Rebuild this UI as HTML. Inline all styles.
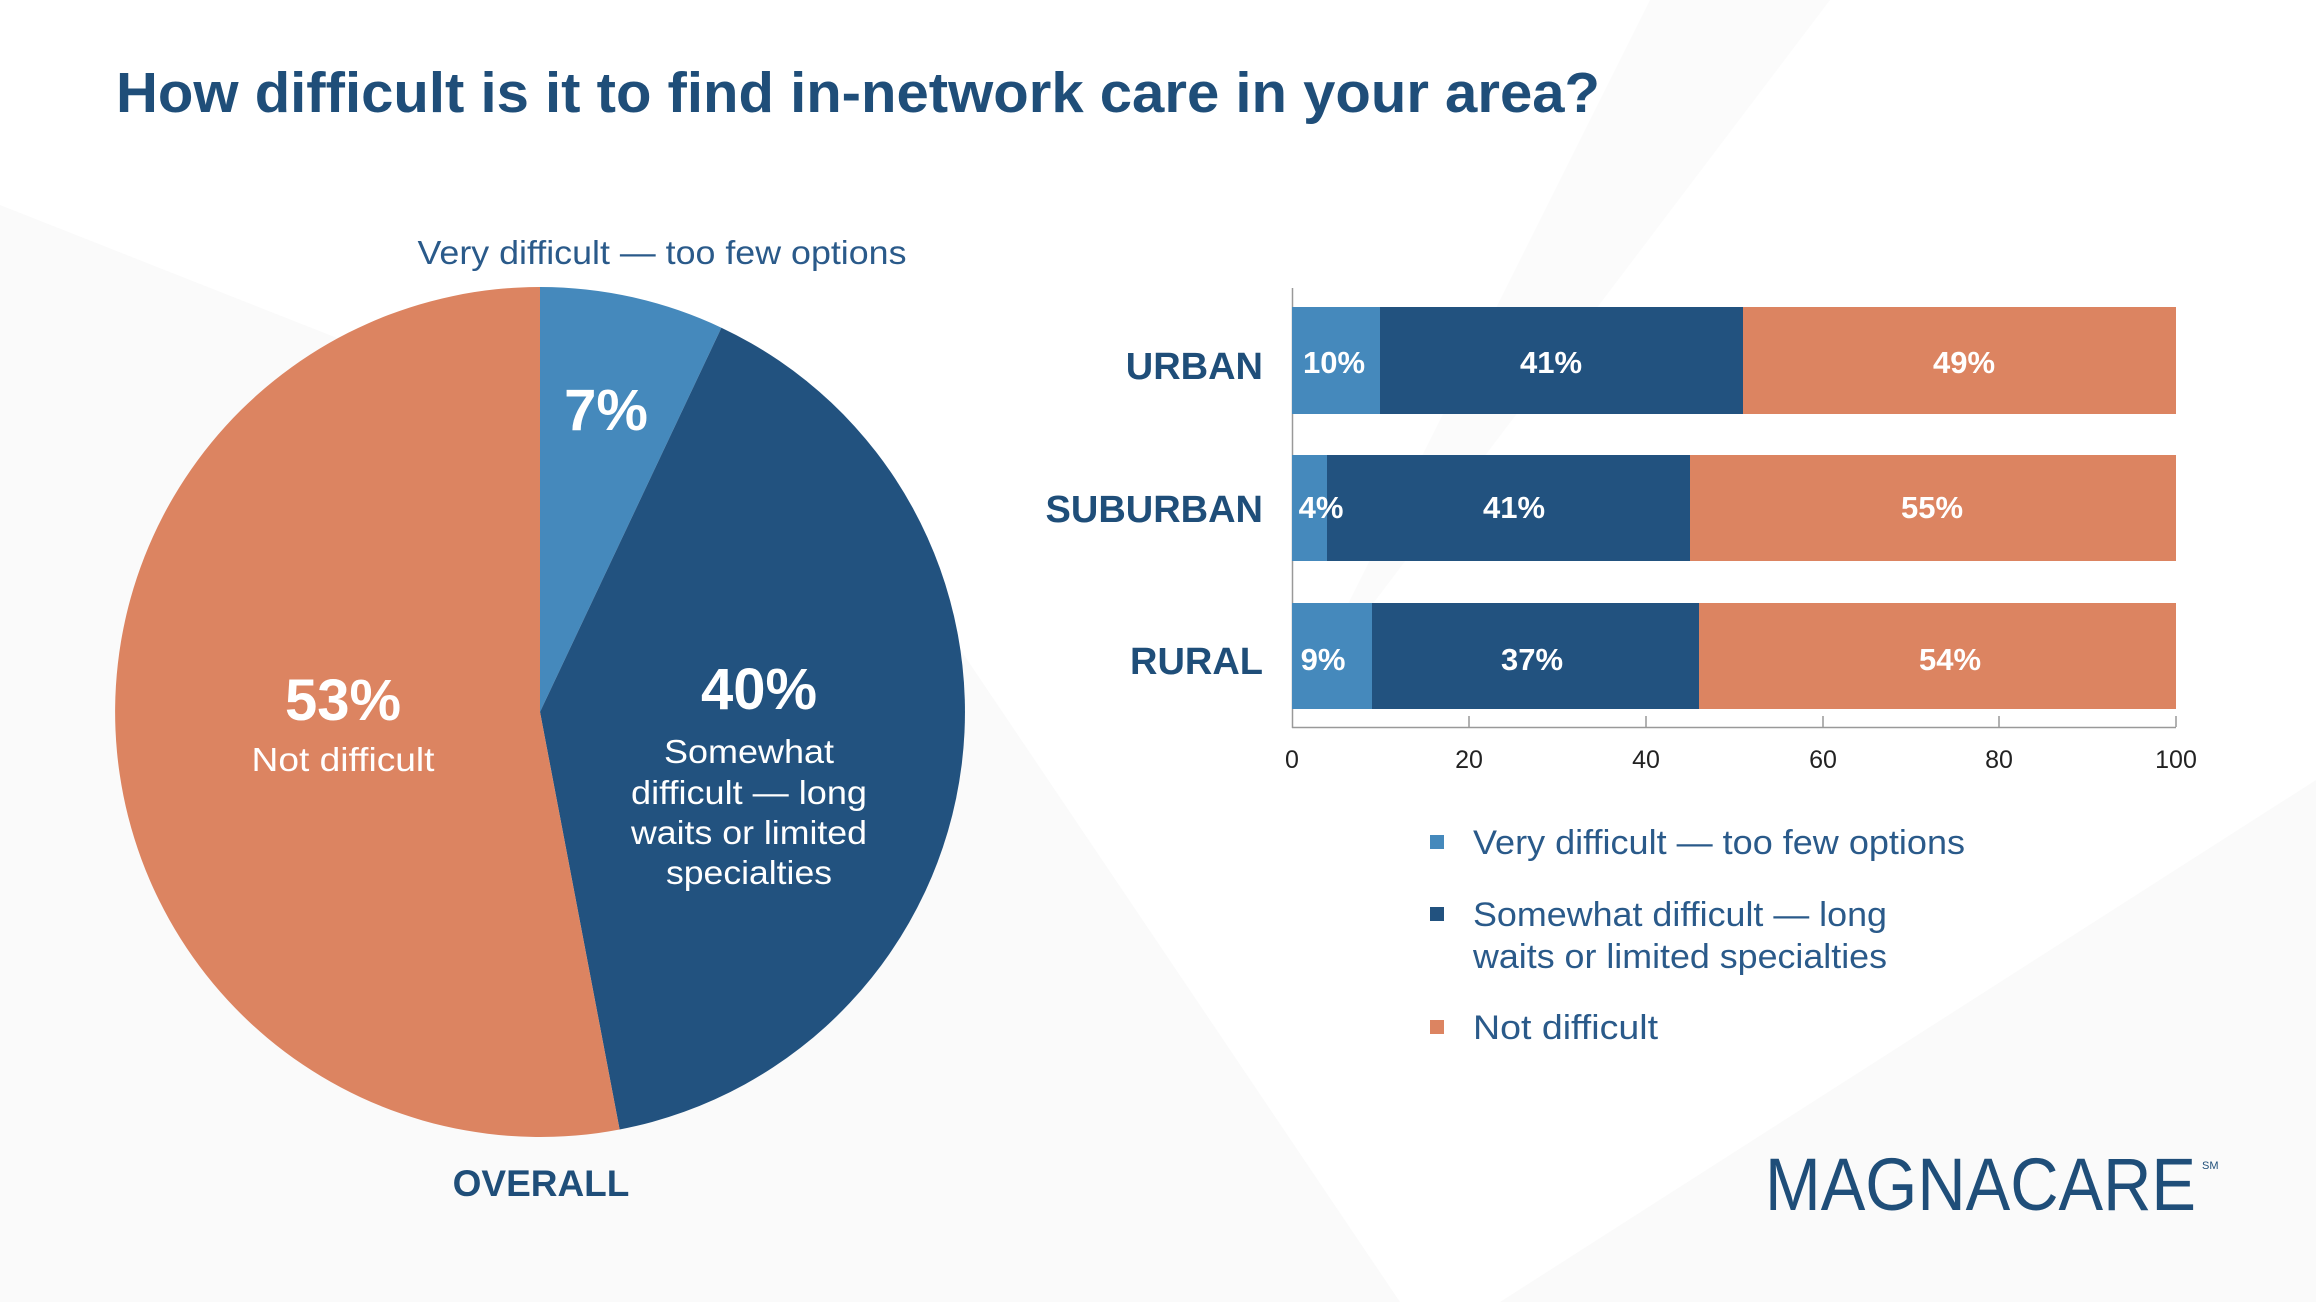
<!DOCTYPE html>
<html><head><meta charset="utf-8"><style>
html,body{margin:0;padding:0;background:#fff}
svg{display:block}
</style></head><body>
<svg width="2316" height="1302" viewBox="0 0 2316 1302" xmlns="http://www.w3.org/2000/svg" font-family="Liberation Sans, sans-serif">
<rect width="2316" height="1302" fill="#ffffff"/>
<polygon points="0,205 900,560 1400,1302 0,1302" fill="#fafafa"/>
<polygon points="1650,0 1830,0 1300,700" fill="#fbfbfb"/>
<polygon points="2316,780 2316,1302 1500,1302" fill="#fafafa"/>
<text x="116" y="112" font-size="57" font-weight="bold" fill="#1f4e79" textLength="1484" lengthAdjust="spacingAndGlyphs">How difficult is it to find in-network care in your area?</text>
<!-- pie -->
<g transform="translate(540,712)">
<path d="M0,0 L0,-425 A425,425 0 0 1 181.4,-384.3 Z" fill="#4589bc"/>
<path d="M0,0 L181.4,-384.3 A425,425 0 0 1 79.6,417.5 Z" fill="#22527f"/>
<path d="M0,0 L79.6,417.5 A425,425 0 1 1 0,-425 Z" fill="#dc8461"/>
</g>
<g fill="#fff" text-anchor="middle">
<text x="606" y="430" font-size="58" font-weight="bold">7%</text>
<text x="343" y="720" font-size="58" font-weight="bold">53%</text>
<text x="343" y="771" font-size="33" textLength="183" lengthAdjust="spacingAndGlyphs">Not difficult</text>
<text x="759" y="709" font-size="58" font-weight="bold">40%</text>
<text x="749" y="763" font-size="33" textLength="170" lengthAdjust="spacingAndGlyphs">Somewhat</text>
<text x="749" y="804" font-size="33" textLength="236" lengthAdjust="spacingAndGlyphs">difficult — long</text>
<text x="749" y="844" font-size="33" textLength="236" lengthAdjust="spacingAndGlyphs">waits or limited</text>
<text x="749" y="884" font-size="33" textLength="166" lengthAdjust="spacingAndGlyphs">specialties</text>
</g>
<text x="662" y="264" font-size="33" fill="#2a5a8a" text-anchor="middle" textLength="489" lengthAdjust="spacingAndGlyphs">Very difficult — too few options</text>
<text x="541" y="1196" font-size="37" font-weight="bold" fill="#1f4e79" text-anchor="middle">OVERALL</text>
<!-- bars -->
<line x1="1292.5" y1="288" x2="1292.5" y2="728" stroke="#999" stroke-width="1.5"/>
<line x1="1292" y1="727.5" x2="2176" y2="727.5" stroke="#999" stroke-width="1.5"/>
<g stroke="#999" stroke-width="1.5">
<line x1="1469" y1="716" x2="1469" y2="727"/><line x1="1646" y1="716" x2="1646" y2="727"/>
<line x1="1823" y1="716" x2="1823" y2="727"/><line x1="1999" y1="716" x2="1999" y2="727"/>
<line x1="2176" y1="716" x2="2176" y2="727"/>
</g>
<g font-size="25" fill="#222" text-anchor="middle">
<text x="1292" y="768">0</text><text x="1469" y="768">20</text><text x="1646" y="768">40</text>
<text x="1823" y="768">60</text><text x="1999" y="768">80</text><text x="2176" y="768">100</text>
</g>
<rect x="1292" y="307" width="88" height="107" fill="#4589bc"/>
<rect x="1380" y="307" width="363" height="107" fill="#22527f"/>
<rect x="1743" y="307" width="433" height="107" fill="#dc8461"/>
<rect x="1292" y="455" width="35" height="106" fill="#4589bc"/>
<rect x="1327" y="455" width="363" height="106" fill="#22527f"/>
<rect x="1690" y="455" width="486" height="106" fill="#dc8461"/>
<rect x="1292" y="603" width="80" height="106" fill="#4589bc"/>
<rect x="1372" y="603" width="327" height="106" fill="#22527f"/>
<rect x="1699" y="603" width="477" height="106" fill="#dc8461"/>
<g fill="#fff" font-size="31" font-weight="bold" text-anchor="middle">
<text x="1334" y="373">10%</text><text x="1551" y="373">41%</text><text x="1964" y="373">49%</text>
<text x="1321" y="518">4%</text><text x="1514" y="518">41%</text><text x="1932" y="518">55%</text>
<text x="1323" y="670">9%</text><text x="1532" y="670">37%</text><text x="1950" y="670">54%</text>
</g>
<g fill="#1f4e79" font-size="38" font-weight="bold" text-anchor="end">
<text x="1263" y="379">URBAN</text><text x="1263" y="522">SUBURBAN</text><text x="1263" y="674">RURAL</text>
</g>
<!-- legend -->
<rect x="1430" y="835" width="14" height="14" fill="#4589bc"/>
<rect x="1430" y="907" width="14" height="14" fill="#22527f"/>
<rect x="1430" y="1020" width="14" height="14" fill="#dc8461"/>
<g fill="#2a5a8a" font-size="34" lengthAdjust="spacingAndGlyphs">
<text x="1473" y="854" textLength="492" lengthAdjust="spacingAndGlyphs">Very difficult — too few options</text>
<text x="1473" y="926" textLength="414" lengthAdjust="spacingAndGlyphs">Somewhat difficult — long</text>
<text x="1473" y="968" textLength="414" lengthAdjust="spacingAndGlyphs">waits or limited specialties</text>
<text x="1473" y="1039" textLength="185" lengthAdjust="spacingAndGlyphs">Not difficult</text>
</g>
<text x="1765" y="1210" font-size="74" fill="#1f4e79" textLength="431" lengthAdjust="spacingAndGlyphs">MAGNACARE</text>
<text x="2202" y="1169" font-size="11" fill="#1f4e79">SM</text>
</svg>
</body></html>
